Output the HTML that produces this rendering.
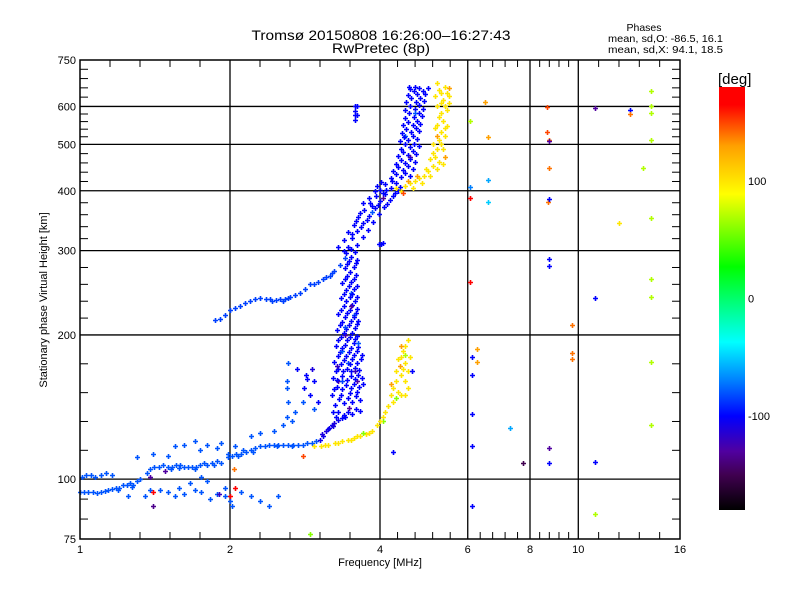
<!DOCTYPE html>
<html><head><meta charset="utf-8">
<style>
html,body{margin:0;padding:0;background:#fff;}
svg{display:block;font-family:"Liberation Sans",sans-serif;}
</style></head>
<body>
<svg id="chart" width="800" height="600" viewBox="0 0 800 600" xmlns="http://www.w3.org/2000/svg">
<rect x="0" y="0" width="800" height="600" fill="#fff"/>
<text x="381" y="40" font-size="14" text-anchor="middle" textLength="259" lengthAdjust="spacingAndGlyphs">Tromsø 20150808 16:26:00–16:27:43</text>
<text x="381" y="53" font-size="14" text-anchor="middle" textLength="98" lengthAdjust="spacingAndGlyphs">RwPretec (8p)</text>
<g font-size="10.5">
<text x="644" y="31" text-anchor="middle">Phases</text>
<text x="608" y="42" textLength="115" lengthAdjust="spacingAndGlyphs">mean, sd,O: -86.5, 16.1</text>
<text x="608" y="53" textLength="115" lengthAdjust="spacingAndGlyphs">mean, sd,X:  94.1, 18.5</text>
</g>
<g id="grid"></g>
<g id="marks"></g>
<rect x="80" y="60" width="600" height="479" fill="none" stroke="#000" stroke-width="1.5"/>
<g id="axes"></g>
<text x="380" y="566" font-size="11" text-anchor="middle">Frequency [MHz]</text>
<text transform="translate(47,300) rotate(-90)" font-size="11" text-anchor="middle">Stationary phase Virtual Height [km]</text>
<defs>
<linearGradient id="cbg" x1="0" y1="1" x2="0" y2="0">
<stop offset="0" stop-color="#000000"/>
<stop offset="0.083" stop-color="#400050"/>
<stop offset="0.139" stop-color="#5000a0"/>
<stop offset="0.222" stop-color="#0000ff"/>
<stop offset="0.306" stop-color="#0080ff"/>
<stop offset="0.397" stop-color="#00ffff"/>
<stop offset="0.575" stop-color="#00ff00"/>
<stop offset="0.747" stop-color="#ffff00"/>
<stop offset="0.861" stop-color="#ffa000"/>
<stop offset="0.958" stop-color="#ff0000"/>
<stop offset="1" stop-color="#ff0000"/>
</linearGradient>
</defs>
<text x="718" y="84" font-size="15">[deg]</text>
<rect x="719" y="87" width="26" height="423" fill="url(#cbg)"/>
<g id="cbticks" font-size="11"></g>
</svg>
<script>
// ---- axis tick data ----
const xTickValues = [1, 2, 4, 6, 8, 10, 16];
const xTickLabels = ["1", "2", "4", "6", "8", "10", "16"];
const yTickValues = [75, 100, 200, 300, 400, 500, 600, 750];
const yTickLabels = ["75", "100", "200", "300", "400", "500", "600", "750"];
const cbTickValues = [100, 0, -100];
const cbTickLabels = ["100", "0", "-100"];

// ---- data traces: [frequency MHz, height km, phase deg (optional)] ----
const oLowTrace = [
[1.0,94],[1.02,94],[1.04,94],[1.06,94],[1.08,93.5],[1.1,94],[1.12,94.5],[1.14,95],[1.16,95.5],[1.18,96],[1.2,96],[1.22,97],[1.24,97],[1.26,98],[1.28,97],[1.3,99],[1.32,100],
[1.01,101],[1.03,102],[1.05,102],[1.07,101],[1.1,102],[1.13,103],[1.16,102],
[1.36,103],[1.38,105],[1.41,106],[1.44,106],[1.47,107],[1.5,106],[1.53,106],[1.56,107],[1.59,107],[1.62,106],[1.65,106],[1.68,106],[1.71,106],[1.74,107],[1.77,108],[1.8,107],[1.84,108],[1.88,109],[1.92,108],
[1.98,111],[2.02,112],[2.06,113],[2.1,113],[2.15,114],[2.2,115],[2.25,116],[2.3,117],[2.35,117],[2.4,118],[2.45,118],[2.5,118],[2.56,118],[2.62,118],[2.68,118],[2.74,118],[2.8,118],[2.86,119],[2.92,119],[2.98,120],
[3.03,121,-105],[3.08,123,-105],[3.12,126,-110],[3.16,128,-105],[3.2,130,-105],[3.24,131,-110],[3.3,133,-105],[3.35,134,-100],[3.4,135,-100],
[1.52,105],[1.58,105.5],[1.7,105],[1.86,107],[2.08,112],[2.22,114],[2.48,117],[2.66,117],[1.27,96.5],[1.19,95],[3.06,124,-110],[3.14,127,-105],[3.22,129,-110]
];
const oLowScatter = [
[1.3,111],[1.4,113],[1.5,112],[1.55,117],[1.62,118],[1.7,120],[1.74,115],[1.8,118],[1.88,116],[1.92,119],[1.98,113],[2.05,117],[2.12,115],[2.2,123],[2.3,125],[2.45,126],[2.55,130],[2.6,135],[2.62,145],[2.66,132],[2.7,138],[2.8,145],[2.6,160],[2.72,170,-100],[2.82,155,-100],[2.84,165,-100],[2.9,150,-100],[2.95,160,-100],[3.0,145,-100],[2.95,140],[2.6,155],[2.62,175],[2.86,162,-100],[2.92,170,-110],
[1.25,92],[1.35,92],[1.45,95],[1.5,94],[1.55,92],[1.62,93],[1.7,95],[1.75,94],[1.82,91],[1.88,93],[1.95,92],[2.0,90],[2.02,88],[2.1,94],[2.2,92],[2.3,90],[2.4,88],[2.5,92],[1.75,101],[1.8,99],[1.95,96],[1.58,96],[1.66,98],[1.38,95],
[1.4,94,170],[2.05,96,170],[2.0,92,170],[1.4,88,-135],[1.48,104,-130],[1.38,101,-130],[1.9,93,-120],[2.04,105,140]
];
const oBranch = [
[1.87,215],[1.91,216],[1.95,220],[2.0,225],[2.05,228],[2.09,230],[2.14,233],[2.19,236],[2.25,238],[2.3,239],[2.36,238],[2.41,238],[2.47,237],[2.52,238],[2.58,238],[2.64,240],[2.7,242],[2.76,245],[2.83,250],[2.9,255],[2.95,256],[3.0,258],[3.08,262],[3.17,266],[3.24,272],[3.32,280],[3.4,290],
[2.43,236],[2.55,236],[2.61,239],[3.12,264],[3.2,270]
];
const oColumn = [
[3.22,138],[3.3,138],[3.45,138],[3.58,140],[3.25,143],[3.38,144],[3.52,145],[3.65,146],[3.2,150],[3.34,150],[3.48,151],[3.6,152],[3.28,156],[3.42,157],[3.55,158],[3.7,158],
[3.22,163],[3.36,164],[3.5,164],[3.62,165],[3.3,170],[3.44,170],[3.57,171],[3.24,176],[3.38,177],[3.52,178],[3.66,178],[3.32,184],[3.46,184],[3.6,185],[3.26,190],[3.4,191],[3.54,192],
[3.34,198],[3.48,198],[3.6,199],[3.28,205],[3.42,206],[3.56,207],[3.36,213],[3.5,214],[3.62,214],[3.3,221],[3.44,222],[3.58,222],[3.38,230],[3.52,231],[3.34,239],[3.48,240],[3.6,240],
[3.42,248],[3.55,249],[3.36,257],[3.5,258],[3.44,266],[3.58,267],[3.4,276],[3.54,277],[3.46,286],[3.6,287],[3.42,296],[3.56,298],
[3.3,160,-130],[3.45,175,-85],[3.4,200,-130],[3.55,220,-85],[3.35,185,-80],[3.6,160,-130],[3.5,245,-80]
];
const oColumnFill = [
[3.26,135],[3.38,136],[3.52,137],[3.64,139],[3.31,147],[3.45,148],[3.58,149],[3.24,154],[3.36,154],[3.5,155],[3.63,156],[3.28,161],[3.43,161],[3.56,162],[3.68,163],
[3.26,168],[3.37,168],[3.5,168],[3.63,169],[3.34,174],[3.48,174],[3.6,175],[3.29,181],[3.42,181],[3.55,182],[3.68,182],[3.36,188],[3.5,188],[3.62,189],[3.3,195],[3.44,195],[3.57,196],
[3.38,202],[3.52,202],[3.32,210],[3.46,210],[3.59,211],[3.4,218],[3.54,218],[3.34,226],[3.48,226],[3.6,227],[3.42,235],[3.56,236],[3.38,244],[3.52,244],[3.46,253],[3.6,253],[3.4,262],[3.54,262],[3.48,271],[3.44,281],[3.58,282],[3.5,291],[3.38,300],[3.5,302],
[3.46,141,-130],[3.56,168,-120],[3.4,208,-85],[3.36,160,-85],[3.62,192,-80],[3.5,230,-130],[3.28,172,-120]
];
const oUpperCloud = [
[3.3,305],[3.45,305],[3.6,308],[3.38,315],[3.52,318],[3.7,320],[3.45,328],[3.6,330],[3.78,332],[3.55,340],[3.7,343],[3.88,345],[3.62,352],[3.8,355],[3.98,357],[3.72,365],[3.9,368],[4.08,370],[3.82,378],[4.0,381],[4.18,383],[3.92,390],[4.1,393],[4.28,396],[4.0,402],[4.2,405],[4.38,408],[4.1,413],[4.3,416],
[3.98,309],[4.02,310],[4.06,311],[3.85,362,-80],[4.05,386,-130],
[3.52,325],[3.66,336],[3.76,348],[3.86,372],[3.96,374],[4.06,396],[3.94,410],[4.14,376],[4.24,390],[3.8,387],[3.7,378],[3.9,400],[4.02,418],[4.22,420],[3.64,360],[3.58,346],[4.34,400],[4.12,402]
];
const oUpperColumn = [
[4.2,425],[4.4,428],[4.6,430],[4.25,440],[4.45,442],[4.65,445],[4.3,455],[4.5,458],[4.7,460],[4.35,472],[4.55,475],[4.72,478],[4.4,490],[4.6,493],[4.78,495],[4.38,508],[4.56,510],[4.75,512],
[4.42,528],[4.62,530],[4.8,532],[4.45,548],[4.65,550],[4.82,552],[4.48,568],[4.68,570],[4.85,572],[4.5,590],[4.7,592],[4.88,594],[4.52,612],[4.72,614],[4.9,615],[4.55,635],[4.75,637],[4.92,638],[4.6,652],[4.8,654],[5.0,655],
[4.5,520,-80],[4.7,580,-80],[4.6,470,-130],
[3.56,600],[3.56,588],[3.56,575],[3.56,563],[3.6,575],
[4.3,433],[4.5,436],[4.35,448],[4.55,450],[4.4,464],[4.6,466],[4.45,482],[4.66,484],[4.48,500],[4.68,502],[4.46,518],[4.66,520],[4.52,538],[4.72,540],[4.55,558],[4.75,560],[4.58,580],[4.78,582],[4.6,602],[4.8,604],[4.62,624],[4.82,626],[4.68,645],[4.88,646],[4.7,660],[4.58,660]
];
const xLowerTrace = [
[2.95,117],[3.05,117],[3.15,118],[3.25,119],[3.35,120],[3.45,121],[3.55,122],[3.65,123],[3.75,124],[3.85,126],[3.95,130],[4.05,135],[4.1,138],[4.15,142],
[4.2,150],[4.25,155],[4.3,160],[4.35,152],[4.4,165],[4.45,170],[4.5,175],[4.4,180],[4.45,185],[4.5,190],[4.55,195],[4.3,168],[4.35,178],[4.5,160],[4.55,155],[4.25,145],
[4.05,132,60],[4.2,158,130],[4.38,172,130],[4.48,182,70],[4.3,148,60],[3.7,125,60],
[3.1,118],[3.3,119],[3.5,121],[3.6,123],[3.8,125],[4.0,132],[4.4,150],[4.5,150],[4.55,168],[4.6,180],[4.4,190,130]
];
const xUpperTrace = [
[4.3,405],[4.4,400],[4.5,410],[4.6,415],[4.7,420],[4.8,425],[4.9,430],[5.0,440],[5.1,450],[5.15,470],[5.2,490],[5.1,480],[5.25,510],[5.3,530],[5.2,550],[5.35,560],[5.3,580],[5.4,600],[5.35,620],[5.45,640],[5.25,650],[5.5,630],
[4.55,420,130],[4.75,430,130],[4.95,445],[5.05,465],[5.3,500],[5.4,520],[5.45,545],[5.25,570],[5.45,590],[5.3,610],[5.5,655,130],[5.15,630],[5.4,470,130],[5.35,455],[5.2,520,130],[4.45,395,150],
[4.65,405],[4.85,415],[5.05,430],[5.2,445],[5.25,460],[5.1,500],[5.35,490],[5.15,540],[5.4,540],[5.2,600],[5.5,610],[5.3,640],[5.4,660],[5.2,670]
];
const outliers = [
[6.5,613,130],[6.07,559,70],[6.58,518,130],[6.07,407,-70],[6.58,421,-60],[6.07,386,170],[6.58,379,-50],[6.07,258,170],
[8.66,598,150],[8.66,530,150],[8.75,510,140],[8.75,447,140],[8.7,379,140],[9.7,210,140],[9.7,183,140],[9.7,178,140],
[6.12,180,-100],[6.12,165,-100],[6.12,137,-100],[6.12,117,-100],[6.12,87.8,-100],[7.29,128,-60],[7.75,108,-150],[6.26,187,130],[6.26,176,130],
[8.73,508,-130],[8.73,384,-100],[8.73,288,-100],[8.73,278,-100],[8.73,116,-130],[8.73,108,-100],
[10.8,595,-130],[12.7,590,-100],[12.7,579,140],[14.0,646,70],[14.0,601,70],[14.0,581,70],[14.0,511,70],[13.5,446,70],[12.07,342,100],[14.0,351,70],[14.0,262,70],[14.0,240,70],[10.8,239,-100],[14.0,176,70],[14.0,130,70],[10.8,108.5,-100],[10.8,84.5,70],
[4.25,114,-100],[4.63,168,-100],[3.6,600,-100],[2.9,77,60],[2.8,112,150]
];

const traces = [
  {name:"o-low-trace", pts:oLowTrace, phase:-80},
  {name:"o-low-scatter", pts:oLowScatter, phase:-80},
  {name:"o-f1-branch", pts:oBranch, phase:-85},
  {name:"o-column", pts:oColumn, phase:-100},
  {name:"o-column-fill", pts:oColumnFill, phase:-100},
  {name:"o-upper-cloud", pts:oUpperCloud, phase:-100},
  {name:"o-upper-column", pts:oUpperColumn, phase:-100},
  {name:"x-lower-trace", pts:xLowerTrace, phase:100},
  {name:"x-upper-trace", pts:xUpperTrace, phase:100},
  {name:"outlier", pts:outliers, phase:0}
];

// ---- axis functions ----
const X0=80, X1=680, Y0=539, Y1=60;
function xScale(f){ return X0 + (X1-X0)*Math.log(f/1)/Math.log(16); }
function yScale(h){ return Y0 - (Y0-Y1)*Math.log(h/75)/Math.log(10); }
function cbScale(v){ return 87 + (180 - v)*423/360; }

const cStops=[[-180,[0,0,0]],[-150,[64,0,80]],[-130,[80,0,160]],[-100,[0,0,255]],[-70,[0,128,255]],[-37,[0,255,255]],[27,[0,255,0]],[89,[255,255,0]],[130,[255,160,0]],[165,[255,0,0]],[180,[255,0,0]]];
function phaseColor(p){
  p=Math.max(-180,Math.min(180,p));
  for(let i=0;i<cStops.length-1;i++){
    const a=cStops[i],b=cStops[i+1];
    if(p<=b[0]){const t=(p-a[0])/(b[0]-a[0]);
      const c=a[1].map((v,k)=>Math.round(v+(b[1][k]-v)*t));
      return `rgb(${c[0]},${c[1]},${c[2]})`;}
  }
  return "rgb(255,0,0)";
}

const NS="http://www.w3.org/2000/svg";
function mk(tag, attrs, parent){ const e=document.createElementNS(NS,tag); for(const k in attrs) e.setAttribute(k,attrs[k]); parent.appendChild(e); return e; }

// grid + ticks
const grid=document.getElementById('grid');
const axes=document.getElementById('axes');
xTickValues.forEach((v,i)=>{
  const x=xScale(v);
  if(i>0 && i<xTickValues.length-1){
    const gl=mk('line',{x1:x,y1:Y1,x2:x,y2:Y0,stroke:'#000','stroke-width':1.3},grid);
    
    
  }
  const t=mk('text',{x:x,y:553,'font-size':11,'text-anchor':'middle'},axes);
  t.textContent=xTickLabels[i];
  
  
  if(i<xTickValues.length-1){
    const x2=xScale(xTickValues[i+1]);
    for(let k=1;k<5;k++){
      const mx=x+(x2-x)*k/5;
      mk('line',{x1:mx,y1:Y0,x2:mx,y2:Y0-7,stroke:'#000','stroke-width':1},axes);
      mk('line',{x1:mx,y1:Y1,x2:mx,y2:Y1+7,stroke:'#000','stroke-width':1},axes);
    }
  }
});
yTickValues.forEach((v,i)=>{
  const y=yScale(v);
  if(i>0 && i<yTickValues.length-1){
    const gl=mk('line',{x1:X0,y1:y,x2:X1,y2:y,stroke:'#000','stroke-width':1.3},grid);
    
    
  }
  const t=mk('text',{x:76,y:y+4,'font-size':11,'text-anchor':'end'},axes);
  t.textContent=yTickLabels[i];
  
  
  if(i<yTickValues.length-1){
    const y2=yScale(yTickValues[i+1]);
    const n=(i===0)?3:5;
    for(let k=1;k<n;k++){
      const my=y+(y2-y)*k/n;
      mk('line',{x1:X0,y1:my,x2:X0+8,y2:my,stroke:'#000','stroke-width':1},axes);
      mk('line',{x1:X1,y1:my,x2:X1-8,y2:my,stroke:'#000','stroke-width':1},axes);
    }
  }
});

// colorbar ticks
const cbt=document.getElementById('cbticks');
cbTickValues.forEach((v,i)=>{
  const t=mk('text',{x:748,y:cbScale(v)+4,'font-size':11},cbt);
  t.textContent=cbTickLabels[i];
  
  
});

// marks
const marks=document.getElementById('marks');
traces.forEach(tr=>{
  const g=mk('g',{},marks);
  
  
  tr.pts.forEach(p=>{
    const x=Math.round(xScale(p[0]))+0.5, y=Math.round(yScale(p[1]))+0.5;
    const col=phaseColor(p.length>2?p[2]:tr.phase);
    const m=mk('path',{d:`M${x-2.5} ${y}H${x+2.5}M${x} ${y-2.5}V${y+2.5}`,stroke:col,'stroke-width':1.6},g);
    
    
  });
});
</script>
</body></html>
